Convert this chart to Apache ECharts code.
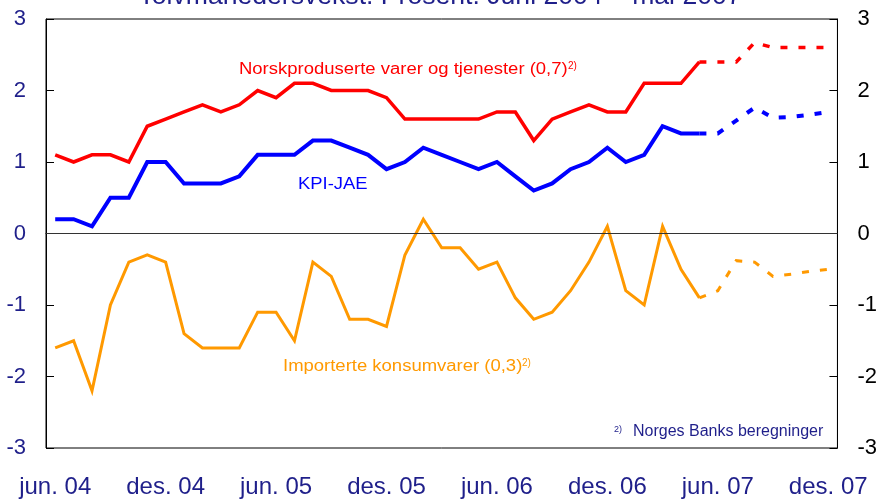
<!DOCTYPE html>
<html>
<head>
<meta charset="utf-8">
<script src="https://cdn.jsdelivr.net/npm/echarts@6/dist/echarts.min.js"></script>
<style>
  html, body { margin: 0; padding: 0; background: #fff; }
  #main { width: 880px; height: 499px; }
</style>
</head>
<body>
<div id="main"></div>
<script>
// måneder jun. 04 - des. 07
const months = [
  'jun. 04', 'jul. 04', 'aug. 04', 'sep. 04', 'okt. 04', 'nov. 04',
  'des. 04', 'jan. 05', 'feb. 05', 'mar. 05', 'apr. 05', 'mai. 05',
  'jun. 05', 'jul. 05', 'aug. 05', 'sep. 05', 'okt. 05', 'nov. 05',
  'des. 05', 'jan. 06', 'feb. 06', 'mar. 06', 'apr. 06', 'mai. 06',
  'jun. 06', 'jul. 06', 'aug. 06', 'sep. 06', 'okt. 06', 'nov. 06',
  'des. 06', 'jan. 07', 'feb. 07', 'mar. 07', 'apr. 07', 'mai. 07',
  'jun. 07', 'jul. 07', 'aug. 07', 'sep. 07', 'okt. 07', 'nov. 07',
  'des. 07'
];

// faktiske tall jun. 04 - mai 07
const norsk = [1.1, 1.0, 1.1, 1.1, 1.0, 1.5, 1.6, 1.7, 1.8, 1.7, 1.8, 2.0,
  1.9, 2.1, 2.1, 2.0, 2.0, 2.0, 1.9, 1.6, 1.6, 1.6, 1.6, 1.6,
  1.7, 1.7, 1.3, 1.6, 1.7, 1.8, 1.7, 1.7, 2.1, 2.1, 2.1, 2.4];
const kpiJae = [0.2, 0.2, 0.1, 0.5, 0.5, 1.0, 1.0, 0.7, 0.7, 0.7, 0.8, 1.1,
  1.1, 1.1, 1.3, 1.3, 1.2, 1.1, 0.9, 1.0, 1.2, 1.1, 1.0, 0.9,
  1.0, 0.8, 0.6, 0.7, 0.9, 1.0, 1.2, 1.0, 1.1, 1.5, 1.4, 1.4];
const importert = [-1.6, -1.5, -2.2, -1.0, -0.4, -0.3, -0.4, -1.4, -1.6, -1.6, -1.6, -1.1,
  -1.1, -1.5, -0.4, -0.6, -1.2, -1.2, -1.3, -0.3, 0.2, -0.2, -0.2, -0.5,
  -0.4, -0.9, -1.2, -1.1, -0.8, -0.4, 0.1, -0.8, -1.0, 0.1, -0.5, -0.9];

// anslag mai 07 - des. 07 (stiplet)
const norskProg = [2.4, 2.4, 2.4, 2.67, 2.6, 2.6, 2.6, 2.6];
const kpiJaeProg = [1.4, 1.4, 1.58, 1.76, 1.62, 1.63, 1.66, 1.7];
const importertProg = [-0.9, -0.8, -0.38, -0.4, -0.6, -0.57, -0.53, -0.5];

const yTicks = [-3, -2, -1, 0, 1, 2, 3];

const navy = '#1f1f8a';
const font = 'Liberation Sans, Arial, sans-serif';

// fyll ut med null slik at seriene havner på riktig måned
function solid(arr) {
  return arr.concat(new Array(months.length - arr.length).fill(null));
}
function prog(arr) {
  return new Array(months.length - arr.length).fill(null).concat(arr);
}

function line(name, data, color, width, dashed) {
  return {
    name: name,
    type: 'line',
    data: data,
    symbol: 'none',
    connectNulls: false,
    animation: false,
    lineStyle: {
      color: color,
      width: width,
      type: dashed ? [7, 11] : 'solid',
      cap: 'butt',
      join: 'miter'
    },
    z: dashed ? 3 : 4
  };
}

// tekst i plottet, litt bredere skrift enn normalt
function label(x, y, text, color, size, sx) {
  return {
    type: 'text', x: x, y: y, scaleX: sx || 1,
    style: { text: text, fill: color, font: size + 'px ' + font, verticalAlign: 'middle' }
  };
}

const chart = echarts.init(document.getElementById('main'));

const series = [
  line('Norskproduserte', solid(norsk), '#ff0000', 3.5, false),
  line('Norskproduserte anslag', prog(norskProg), '#ff0000', 3.5, true),
  line('KPI-JAE', solid(kpiJae), '#0000ff', 4, false),
  line('KPI-JAE anslag', prog(kpiJaeProg), '#0000ff', 4, true),
  line('Importerte', solid(importert), '#ff9900', 3, false),
  line('Importerte anslag', prog(importertProg), '#ff9900', 3, true)
];

// nullinje
series[0].markLine = {
  silent: true,
  symbol: 'none',
  label: { show: false },
  lineStyle: { color: '#333', width: 1, type: 'solid' },
  data: [{ yAxis: 0 }]
};

const yAxisBase = {
  type: 'value',
  min: yTicks[0],
  max: yTicks[yTicks.length - 1],
  interval: 1,
  splitLine: { show: false },
  axisLine: { show: true, lineStyle: { color: '#000', width: 1 } },
  axisTick: { show: true, inside: true, length: 8, lineStyle: { color: '#000' } }
};

chart.setOption({
  animation: false,
  backgroundColor: '#fff',
  grid: {
    left: 46, right: 41, top: 19, bottom: 51,
    show: true, borderColor: '#000', borderWidth: 1
  },
  xAxis: {
    type: 'category',
    data: months,
    boundaryGap: true,
    axisLine: { lineStyle: { color: '#000', width: 1 } },
    axisTick: { inside: true, length: 8, interval: 5, lineStyle: { color: '#000' } },
    axisLabel: {
      interval: 5, margin: 27, color: navy, fontSize: 24, fontFamily: font,
      showMaxLabel: true
    },
    splitLine: { show: false }
  },
  yAxis: [
    Object.assign({}, yAxisBase, {
      position: 'left',
      axisLabel: { margin: 20, color: navy, fontSize: 22, fontFamily: font }
    }),
    Object.assign({}, yAxisBase, {
      position: 'right',
      axisLabel: { margin: 20, color: '#000', fontSize: 22, fontFamily: font }
    })
  ],
  graphic: [
    {
      type: 'text', left: 'center', top: -17,
      style: { text: 'Tolvmånedersvekst. Prosent. Juni 2004 – mai 2007', fill: navy, font: '26.6px ' + font }
    },
    label(239, 70, 'Norskproduserte varer og tjenester (0,7)', '#ff0000', 16, 1.155),
    label(568, 66, '2)', '#ff0000', 10),
    label(298, 185, 'KPI-JAE', '#0000ff', 16, 1.15),
    label(283, 367, 'Importerte konsumvarer (0,3)', '#ff9900', 16, 1.155),
    label(522, 363, '2)', '#ff9900', 10),
    label(614, 430, '2)', navy, 9),
    label(633, 432, 'Norges Banks beregninger', navy, 16)
  ],
  series: series
});
</script>
</body>
</html>
